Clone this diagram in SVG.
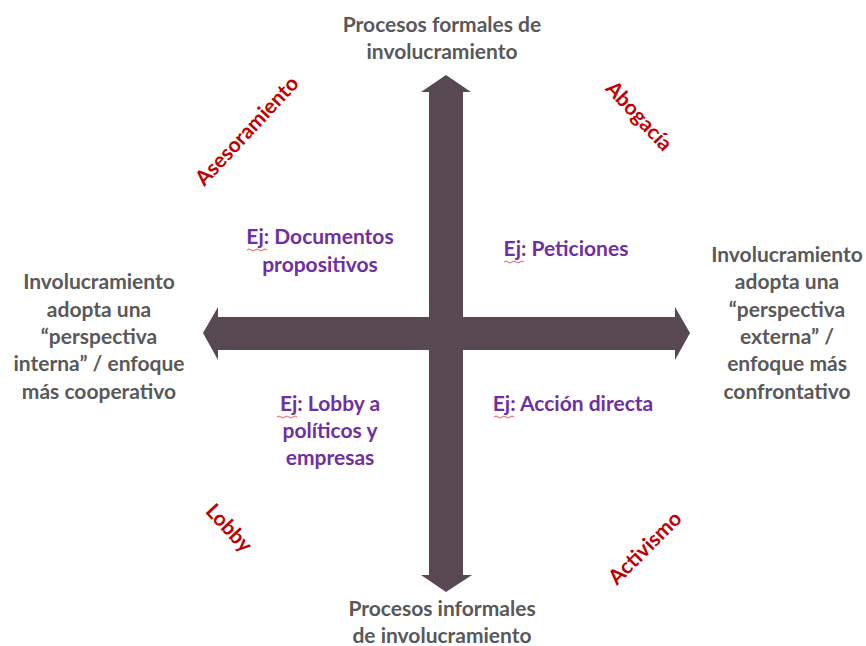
<svg xmlns="http://www.w3.org/2000/svg" width="866" height="646" viewBox="0 0 866 646">
<style>
text{font-family:Lato,"Liberation Sans",sans-serif;font-weight:bold;font-size:21px;text-anchor:middle}
.g{fill:#595959}
.p{fill:#7030A0}
.r{fill:#C00000}
.arrow{fill:#574852}
.sq{fill:none;stroke:#e03030;stroke-width:0.8}
</style>
<rect width="866" height="646" fill="#ffffff"/>
<g id="connectors">
<path class="arrow" d="M446,75 L471,92 L463,92 L463,317 L675,317 L675,307 L690,333 L675,360 L675,350 L463,350 L463,575 L472,575 L446,592 L421,575 L429,575 L429,350 L218,350 L218,360 L203,333 L218,307 L218,317 L429,317 L429,92 L421,92 Z"/>
</g>
<g id="top">
<text class="g" x="442" y="32">Procesos formales de</text>
<text class="g" x="442" y="59">involucramiento</text>
</g>
<g id="bottom">
<text class="g" x="442" y="616">Procesos informales</text>
<text class="g" x="442" y="643">de involucramiento</text>
</g>
<g id="left">
<text class="g" x="99" y="289">Involucramiento</text>
<text class="g" x="99" y="317">adopta una</text>
<text class="g" x="99" y="344">“perspectiva</text>
<text class="g" x="99" y="371">interna” / enfoque</text>
<text class="g" x="99" y="399">más cooperativo</text>
</g>
<g id="right">
<text class="g" x="787" y="262">Involucramiento</text>
<text class="g" x="787" y="289">adopta una</text>
<text class="g" x="787" y="317">“perspectiva</text>
<text class="g" x="787" y="344">externa” /</text>
<text class="g" x="787" y="371">enfoque más</text>
<text class="g" x="787" y="399">confrontativo</text>
</g>
<g id="q1">
<text class="p" x="320" y="244">Ej: Documentos</text>
<text class="p" x="320" y="272">propositivos</text>
<path class="sq" d="M247,250 q2,-2 4,0 t4,0 t4,0 t4,0 t4,0"/>
</g>
<g id="q2">
<text class="p" x="566" y="256">Ej: Peticiones</text>
<path class="sq" d="M504,262 q2,-2 4,0 t4,0 t4,0 t4,0 t4,0"/>
</g>
<g id="q3">
<text class="p" x="330" y="411">Ej: Lobby a</text>
<text class="p" x="330" y="438">políticos y</text>
<text class="p" x="330" y="465">empresas</text>
<path class="sq" d="M277,417 q2,-2 4,0 t4,0 t4,0 t4,0 t4,0"/>
</g>
<g id="q4">
<text class="p" x="573" y="411">Ej: Acción directa</text>
<path class="sq" d="M494,417 q2,-2 4,0 t4,0 t4,0 t4,0 t4,0"/>
</g>
<g id="asesoramiento"><text class="r" transform="translate(247,131) rotate(-47)" y="7">Asesoramiento</text></g>
<g id="abogacia"><text class="r" transform="translate(639,116) rotate(47)" y="7">Abogacía</text></g>
<g id="lobby"><text class="r" transform="translate(229,528) rotate(47)" y="7">Lobby</text></g>
<g id="activismo"><text class="r" transform="translate(645,548) rotate(-45)" y="7">Activismo</text></g>
</svg>
